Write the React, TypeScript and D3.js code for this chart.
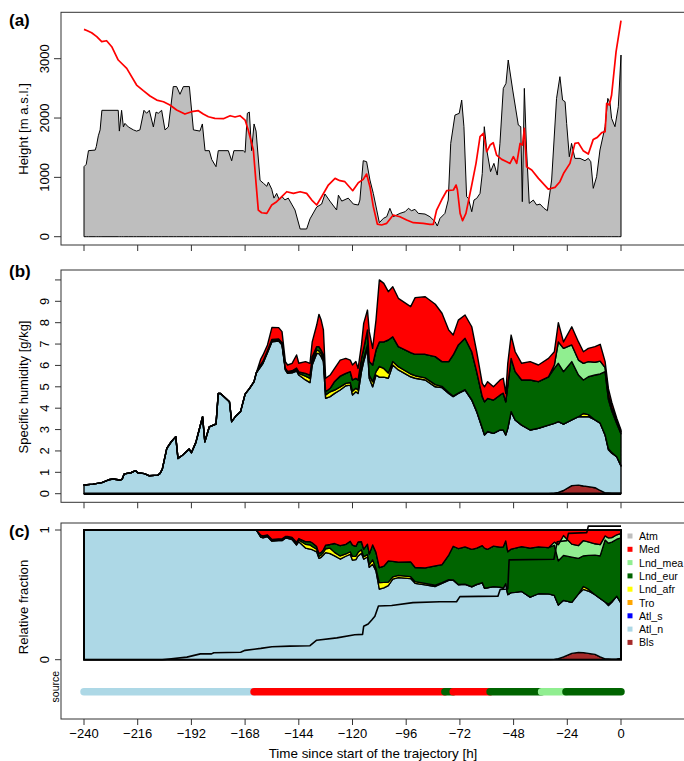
import * as d3 from 'd3'

const W = 684
const H = 761
const FONT = '"Liberation Sans", Arial, Helvetica, sans-serif'

// ---- panel (a): terrain below the trajectory and trajectory height [m a.s.l.]
const terrain: [number, number][] = [
  [-240, 1180], [-239, 1220], [-238, 1450], [-235, 1460], [-234.5, 1520], [-233.6, 1700], [-232.8, 1800],
  [-232, 2130], [-224.7, 2130], [-224.2, 1780], [-223.2, 2130], [-222.4, 1850], [-221.7, 1910], [-220.2, 1850],
  [-217.9, 1800], [-216.5, 1780], [-215, 1800], [-213.2, 2130], [-212, 2080], [-210.8, 2130], [-209, 1850],
  [-207.8, 2100], [-206.8, 2080], [-205.3, 2130], [-203.8, 1800], [-202.3, 1850], [-200.1, 2530], [-198.6, 2530],
  [-197.1, 2400], [-195.6, 2530], [-192.9, 2530], [-191.1, 1800], [-188.2, 1780], [-187.1, 1900], [-185.9, 1450],
  [-184, 1450], [-182.9, 1300], [-181, 1180], [-180, 1450], [-175.5, 1450], [-174, 1280], [-173, 1450],
  [-168.8, 1450], [-168, 1420], [-167, 2080], [-166.1, 2100], [-165.1, 1450], [-164, 1900], [-163.1, 1780],
  [-161.3, 950], [-159.8, 900], [-158.3, 850], [-157.6, 920], [-156.1, 800], [-155.1, 650], [-153.9, 730],
  [-152.7, 620], [-151.6, 680], [-150.2, 620], [-148.7, 650], [-147.2, 550], [-145.7, 450], [-143.4, 130],
  [-140.5, 130], [-139, 300], [-137.5, 400], [-136, 500], [-133.8, 550], [-132.3, 720], [-130.1, 600],
  [-127.1, 450], [-126.3, 700], [-124.8, 600], [-121.9, 650], [-119.6, 550], [-117.4, 534], [-116.7, 618],
  [-115.2, 1281], [-113.7, 1264], [-112.2, 955], [-110.7, 730], [-108, 236], [-106.2, 309], [-104.7, 337],
  [-103.3, 478], [-101.8, 337], [-100.3, 365], [-98.8, 393], [-96.5, 421], [-95, 478], [-93.6, 438],
  [-92.1, 461], [-90.6, 393], [-87.6, 382], [-85.4, 337], [-83.1, 253], [-82.1, 180], [-80.9, 309],
  [-78.7, 393], [-77.2, 618], [-76.1, 1573], [-74.2, 2050], [-72.3, 2079], [-71.2, 2303], [-70.2, 1854],
  [-69, 674], [-68.2, 646], [-66.7, 421], [-65.7, 618], [-64.5, 646], [-63, 730], [-62, 1067], [-61.1, 1854],
  [-60, 1461], [-58.3, 1096], [-56.8, 1236], [-55.3, 1039], [-54.1, 1573], [-52.6, 2500], [-51.4, 2584],
  [-50.4, 2978], [-48.4, 2472], [-45.9, 1882], [-44.8, 1854], [-44.1, 590], [-43.2, 2500], [-42.2, 1461],
  [-41, 562], [-39.2, 618], [-37.7, 534], [-36.2, 550], [-34.4, 478], [-32.9, 438], [-31, 955], [-28.8, 2331],
  [-27.3, 2697], [-26.1, 2303], [-25, 2275], [-24.3, 1910], [-23.1, 1348], [-22.1, 1573], [-20.6, 1320],
  [-18.3, 1320], [-16.1, 1281], [-14.6, 1320], [-13.5, 1264], [-12.4, 815], [-10.9, 1011], [-9.4, 1461],
  [-7.1, 1854], [-5.9, 2331], [-4.9, 2247], [-4.2, 1994], [-2.7, 1854], [-1.2, 2191], [0, 3062],
]

const trajHeight: [number, number][] = [
  [-240, 3494], [-238.5, 3472], [-236.6, 3438], [-234.3, 3371], [-232.1, 3287], [-229.9, 3303], [-227.6, 3202],
  [-224.7, 2978], [-220.9, 2837], [-216.5, 2556], [-213.5, 2461], [-210.5, 2371], [-207.5, 2303], [-204.5, 2275],
  [-201.6, 2219], [-198.6, 2135], [-194.9, 2067], [-191.9, 2107], [-188.9, 2124], [-186.7, 2067], [-184.4, 2022],
  [-181.5, 1994], [-177.7, 1989], [-174.7, 2039], [-172.5, 2017], [-170.3, 2039], [-168, 1966], [-166.6, 1798],
  [-164.3, 1461], [-163.1, 899], [-162.1, 449], [-160.6, 404], [-158.3, 393], [-156.1, 534], [-153.9, 590],
  [-151.6, 674], [-149.4, 758], [-146.4, 730], [-143.4, 758], [-140.5, 730], [-138.2, 618], [-136, 534],
  [-133.8, 674], [-130.8, 871], [-127.8, 983], [-125.6, 944], [-123.4, 927], [-119.9, 775], [-117.4, 910],
  [-115.2, 966], [-113.7, 1056], [-112.2, 843], [-110.7, 506], [-108.9, 213], [-107, 197], [-104.7, 225],
  [-101.8, 365], [-98.8, 337], [-95.8, 281], [-92.8, 236], [-88.4, 225], [-85.4, 208], [-83.9, 208],
  [-82.4, 449], [-80.2, 618], [-77.9, 775], [-74.9, 787], [-73.7, 871], [-73.1, 787], [-71.9, 393],
  [-70.8, 270], [-69.3, 393], [-66.7, 871], [-64.8, 1236], [-63, 1685], [-61.5, 1742], [-60, 1433],
  [-58.5, 1545], [-57.1, 1584], [-55.6, 1376], [-53.3, 1303], [-51.1, 1264], [-49.6, 1236], [-48.1, 1348],
  [-46.6, 1236], [-45.1, 1573], [-44, 1545], [-43.2, 1826], [-42.2, 1180], [-39.9, 1124], [-36.9, 983],
  [-32.5, 803], [-29.5, 831], [-27.3, 927], [-25.5, 1079], [-22.8, 1236], [-20.6, 1573], [-19.1, 1584],
  [-16.9, 1450], [-14.6, 1393], [-12.4, 1640], [-10.6, 1674], [-8.6, 1753], [-7.1, 1770], [-6.4, 2247],
  [-5.2, 2219], [-4.2, 2388], [-2.2, 3118], [0, 3640],
]

// ---- panel (b): specific humidity per moisture source [g/kg]
const hours = [
  -240, -236, -232, -229, -227, -224, -223, -222, -219, -217, -216, -213, -211, -207, -206, -205, -203, -201,
  -199, -198, -196, -193, -192, -190, -188, -187, -186, -184, -181, -180, -179, -175, -174, -172, -170, -168,
  -166, -164, -163,
  -161, -160, -158, -156, -153, -151.5, -150, -149, -147, -145, -144, -141, -139, -138, -136, -135, -134, -133,
  -132, -130, -128, -125.5, -123, -121, -120, -118.5, -117.5, -116, -115, -113.3, -112.5, -111, -109.5, -108,
  -106, -104, -102, -99.5, -94, -92, -87.5, -83, -80, -77, -75, -72.7, -69.7, -66.7, -64.5, -62, -61, -59.6,
  -57, -54, -52.6, -51.5, -50.6, -49.1, -47.3, -44.4, -40.6, -36.9, -32.4, -29.8, -28, -25.7, -22, -19,
  -16.8, -14.6, -11.6, -9.3, -7.1, -5.6, -4.1, -1.9, 0,
]
const atlN = [
  0.41, 0.45, 0.52, 0.65, 0.69, 0.64, 0.67, 0.93, 0.98, 1.08, 0.98, 0.94, 0.84, 0.87, 0.95, 1.15, 2.12, 2.43,
  2.67, 1.65, 1.8, 2.09, 1.92, 2.4, 3.2, 3.6, 2.43, 3.13, 3.26, 4.69, 4.69, 4.3, 3.37, 3.65, 3.85, 4.66,
  4.93, 5.24, 5.65,
  5.95, 6.1, 6.6, 7.11, 7.14, 6.96, 5.79, 5.63, 5.65, 5.74, 5.55, 5.32, 5.2, 6.02, 6.56, 6.56, 6.41, 6.18,
  4.46, 4.54, 4.69, 4.85, 5.05, 5.08, 4.62, 4.77, 4.69, 5.71, 6.18, 6.8, 5.4, 5.0, 5.55, 5.45,
  5.45, 5.4, 6.02, 5.79, 5.47, 5.4, 5.32, 5.0, 4.96, 4.69, 4.54, 4.69, 4.85, 4.38, 3.84, 3.06, 2.75, 2.9,
  2.82, 2.98, 2.98, 2.75, 3.06, 3.84, 3.45, 3.21, 2.98, 3.06, 3.21, 3.27, 3.31, 3.1, 3.07, 3.2,
  3.24, 3.27, 3.17, 3.15, 2.71, 2.02, 1.87, 1.71, 1.27,
]
const lndAfr = [
  0, 0, 0, 0, 0, 0, 0, 0, 0, 0, 0, 0, 0, 0, 0, 0, 0, 0,
  0, 0, 0, 0, 0, 0, 0, 0, 0, 0, 0, 0, 0, 0, 0, 0, 0, 0,
  0, 0, 0,
  0.02, 0.03, 0.03, 0.03, 0.03, 0.04, 0.03, 0.03, 0.04, 0.06, 0.08, 0.18, 0.2, 0.18, 0.16, 0.12, 0.15, 0.15,
  0.16, 0.23, 0.16, 0.15, 0.11, 0.12, 0.18, 0.16, 0.16, 0.19, 0.15, 0.16, 0.15, 0.24, 0.16, 0.5,
  0.41, 0.25, 0.16, 0.15, 0.13, 0.12, 0.1, 0.1, 0.06, 0.04, 0.03, 0.02, 0.02, 0.02, 0.02, 0.01, 0.01, 0.01,
  0, 0, 0, 0, 0, 0, 0, 0, 0, 0, 0, 0, 0, 0, 0, 0,
  0.15, 0.1, 0, 0, 0, 0.05, 0.03, 0, 0,
]
const lndEur = [
  0, 0, 0, 0, 0, 0, 0, 0, 0, 0, 0, 0, 0, 0, 0, 0, 0, 0,
  0, 0, 0, 0, 0, 0, 0, 0, 0, 0, 0, 0, 0, 0, 0, 0, 0, 0,
  0, 0, 0,
  0.08, 0.07, 0.07, 0.08, 0.07, 0.06, 0.05, 0.06, 0.06, 0.08, 0.07, 0.13, 0.15, 0.2, 0.16, 0.2, 0.16, 0.17,
  0.15, 0.16, 0.4, 0.5, 0.47, 0.51, 0.52, 0.47, 0.47, 0.43, 0.47, 0.7, 0.63, 0.78, 1.01, 1.15,
  1.24, 1.54, 1.16, 0.94, 1.0, 1.0, 1.1, 1.31, 1.16, 1.45, 1.92, 2.25, 2.4, 2.24, 1.85, 1.47, 1.54, 1.55,
  1.56, 1.64, 1.72, 1.55, 2.02, 2.49, 2.26, 2.11, 2.34, 2.18, 2.26, 2.57, 2.73, 2.46, 2.73, 1.95,
  1.57, 1.77, 2.1, 2.3, 2.96, 2.3, 1.95, 1.55, 1.5,
]
const lndMea = [
  0, 0, 0, 0, 0, 0, 0, 0, 0, 0, 0, 0, 0, 0, 0, 0, 0, 0,
  0, 0, 0, 0, 0, 0, 0, 0, 0, 0, 0, 0, 0, 0, 0, 0, 0, 0,
  0, 0, 0,
  0, 0, 0, 0, 0, 0, 0, 0, 0, 0, 0, 0, 0, 0, 0, 0, 0, 0,
  0, 0, 0, 0, 0, 0, 0, 0, 0, 0, 0, 0, 0, 0, 0, 0,
  0, 0, 0, 0, 0, 0, 0, 0, 0, 0, 0, 0, 0, 0, 0, 0, 0, 0,
  0, 0, 0, 0, 0, 0, 0, 0, 0, 0, 0, 0.16, 1.0, 1.09, 0.78, 0.7,
  0.78, 0.71, 0.6, 0.6, 0.19, 0.2, 0.15, 0.12, 0.1,
]
const med = [
  0, 0, 0, 0, 0, 0, 0, 0, 0, 0, 0, 0, 0, 0, 0, 0, 0, 0,
  0, 0, 0, 0, 0, 0, 0, 0, 0, 0, 0, 0, 0, 0, 0, 0, 0, 0,
  0, 0, 0,
  0.25, 0.29, 0.26, 0.56, 0.53, 0.52, 0.31, 0.3, 0.35, 0.61, 0.4, 0.55, 0.55, 0.7, 1.01, 1.51, 1.4, 1.16,
  0.63, 0.62, 0.61, 0.75, 0.7, 0.54, 0.7, 0.78, 0.54, 0.63, 1.17, 0.93, 1.4, 0.78, 1.4, 2.9,
  2.74, 2.26, 2.34, 2.26, 2.15, 2.65, 2.69, 2.45, 2.26, 1.48, 0.93, 1.16, 1.09, 1.17, 0.93, 0.62, 0.7, 0.78,
  0.62, 0.7, 0.7, 0.39, 1.02, 1.09, 0.93, 0.78, 0.86, 0.78, 0.86, 0.62, 0.9, 0.3, 0.85, 0.85,
  0.54, 0.62, 0.73, 0.79, 0.28, 0.3, 0.25, 0.13, 0.08,
]
const bls = [
  0, 0, 0, 0, 0, 0, 0, 0, 0, 0, 0, 0, 0, 0, 0, 0, 0, 0,
  0, 0, 0, 0, 0, 0, 0, 0, 0, 0, 0, 0, 0, 0, 0, 0, 0, 0,
  0, 0, 0,
  0, 0, 0, 0, 0, 0, 0, 0, 0, 0, 0, 0, 0, 0, 0, 0, 0, 0,
  0, 0, 0, 0, 0, 0, 0, 0, 0, 0, 0, 0, 0, 0, 0, 0,
  0, 0, 0, 0, 0, 0, 0, 0, 0, 0, 0, 0, 0, 0, 0, 0, 0, 0,
  0, 0, 0, 0, 0, 0, 0, 0, 0, 0, 0, 0.02, 0.06, 0.15, 0.38, 0.4,
  0.36, 0.33, 0.28, 0.15, 0.04, 0.03, 0.02, 0.02, 0.03,
]

// ---- panel (c): the black line drawn over the relative fractions
const fracLine: [number, number][] = [
  [-240, 0], [-205, 0], [-194, 0.02], [-188, 0.045], [-183, 0.045], [-182, 0.054], [-170, 0.058], [-168, 0.072],
  [-161, 0.087], [-156, 0.1], [-148, 0.105], [-139, 0.108], [-136, 0.15], [-127, 0.168], [-119, 0.192],
  [-115.5, 0.195], [-115, 0.258], [-113, 0.275], [-111.4, 0.306], [-110, 0.335], [-108.4, 0.414], [-102.5, 0.418],
  [-93, 0.44], [-81, 0.447], [-73.5, 0.447], [-72, 0.486], [-55, 0.49], [-54, 0.542], [-50.6, 0.545], [-50, 0.77],
  [-30, 0.774], [-28.5, 0.91], [-24.2, 0.918], [-23.5, 0.974], [-15.3, 0.98], [-14.6, 1.03], [0, 1.03],
]

// dominant source along the trajectory
const srcStart = [-240, -164, -78.7, -75, -58.5, -35.5, -24.6]
const srcEnd = [-164, -78.7, -75, -58.5, -35.5, -24.6, 0]
const srcName = ['Atl_n', 'Med', 'Lnd_eur', 'Med', 'Lnd_eur', 'Lnd_mea', 'Lnd_eur']

const legendKeys = ['Atm', 'Med', 'Lnd_mea', 'Lnd_eur', 'Lnd_afr', 'Tro', 'Atl_s', 'Atl_n', 'Bls']
const legendColors = ['#bebebe', '#ff0000', '#90ee90', '#006400', '#ffff00', '#ffa500', '#0000ff', '#add8e6', '#a52a2a']
const colorOf: Record<string, string> = Object.fromEntries(legendKeys.map((k, i) => [k, legendColors[i]]))

const xTicks = [-240, -216, -192, -168, -144, -120, -96, -72, -48, -24, 0]
const hTicks = [0, 1000, 2000, 3000]
const qTicks = [0, 1, 2, 3, 4, 5, 6, 7, 8, 9, 10]
const qLabels = [0, 1, 2, 3, 4, 5, 6, 7, 8, 9]
const fTicks = [0, 1]

const stackKeys = ['Bls', 'Atl_n', 'Lnd_afr', 'Lnd_eur', 'Lnd_mea', 'Med']

type Row = { t: number; [k: string]: number }

export default function App() {
  const x = d3.scaleLinear().domain([-240, 0]).range([84, 621])
  const yA = d3.scaleLinear().domain([0, 3000]).range([236.7, 58.7])
  const yB = d3.scaleLinear().domain([0, 9]).range([493.7, 301.3])
  const yC = d3.scaleLinear().domain([0, 1]).range([659.7, 530])

  const boxL = 61
  const boxR = 700
  const boxes = [
    { top: 12.3, bottom: 245 },
    { top: 270, bottom: 502.3 },
    { top: 523, bottom: 719 },
  ]

  const terrainArea = d3.area<[number, number]>()
    .x(d => x(d[0])).y0(yA(0)).y1(d => yA(d[1]))
  const trajLine = d3.line<[number, number]>().x(d => x(d[0])).y(d => yA(d[1]))

  const rows: Row[] = hours.map((t, i) => ({
    t, Bls: bls[i], Atl_n: atlN[i], Lnd_afr: lndAfr[i], Lnd_eur: lndEur[i], Lnd_mea: lndMea[i], Med: med[i],
  }))
  const stackAbs = d3.stack<Row>().keys(stackKeys)(rows)
  const stackRel = d3.stack<Row>().keys(stackKeys).offset(d3.stackOffsetExpand)(rows)

  const areaB = d3.area<d3.SeriesPoint<Row>>()
    .x(d => x(d.data.t)).y0(d => yB(d[0])).y1(d => yB(d[1]))
  const areaC = d3.area<d3.SeriesPoint<Row>>()
    .x(d => x(d.data.t)).y0(d => yC(d[0])).y1(d => yC(d[1]))
  const fracPath = d3.line<[number, number]>().x(d => x(d[0])).y(d => yC(d[1]))

  const minus = (v: number) => (v < 0 ? '\u2212' + Math.abs(v) : String(v))
  const srcY = 691.7

  return (
    <svg width={W} height={H} style={{ position: 'absolute', left: 0, top: 0, background: '#fff' }}
      fontFamily={FONT}>
      {/* panel (a) */}
      <path d={terrainArea(terrain) + 'Z'} fill="#bebebe" stroke="#000" strokeWidth={1} strokeLinejoin="round" />
      <path d={trajLine(trajHeight) ?? ''} fill="none" stroke="#ff0000" strokeWidth={1.7} strokeLinejoin="round" />

      {/* panel (b) */}
      {stackAbs.map(s => (
        <path key={'b' + s.key} d={areaB(s) + 'Z'} fill={colorOf[s.key]} stroke="#000" strokeWidth={1.4}
          strokeLinejoin="round" />
      ))}
      <line x1={x(-240)} x2={x(0)} y1={yB(0)} y2={yB(0)} stroke="#000" strokeWidth={2.5} />

      {/* panel (c) */}
      {stackRel.map(s => (
        <path key={'c' + s.key} d={areaC(s) + 'Z'} fill={colorOf[s.key]} stroke="#000" strokeWidth={1.3}
          strokeLinejoin="round" />
      ))}
      <rect x={x(-240)} y={yC(1)} width={x(0) - x(-240)} height={yC(0) - yC(1)} fill="none" stroke="#000"
        strokeWidth={2} />
      <path d={fracPath(fracLine) ?? ''} fill="none" stroke="#000" strokeWidth={1.6} strokeLinejoin="round" />

      {srcStart.map((s, i) => (
        <line key={'src' + i} x1={x(s)} x2={x(srcEnd[i])} y1={srcY} y2={srcY} stroke={colorOf[srcName[i]]}
          strokeWidth={7.5} strokeLinecap="round" />
      ))}

      {/* boxes and x ticks */}
      {boxes.map((b, i) => (
        <g key={'box' + i}>
          <rect x={boxL} y={b.top} width={boxR - boxL} height={b.bottom - b.top} fill="none" stroke="#333"
            strokeWidth={1} />
          {xTicks.map(t => (
            <line key={t} x1={x(t)} x2={x(t)} y1={b.bottom} y2={b.bottom + 6} stroke="#333" strokeWidth={1} />
          ))}
        </g>
      ))}
      {xTicks.map(t => (
        <text key={'xl' + t} x={x(t)} y={737.5} fontSize={13} textAnchor="middle">{minus(t)}</text>
      ))}
      <text x={373} y={757.5} fontSize={13.4} textAnchor="middle">Time since start of the trajectory [h]</text>

      {/* y axes */}
      {hTicks.map(v => (
        <g key={'ha' + v}>
          <line x1={boxL - 7} x2={boxL} y1={yA(v)} y2={yA(v)} stroke="#333" />
          <text transform={`translate(49,${yA(v)}) rotate(-90)`} fontSize={13} textAnchor="middle">{v}</text>
        </g>
      ))}
      {qTicks.map(v => (
        <line key={'qb' + v} x1={boxL - 6} x2={boxL} y1={yB(v)} y2={yB(v)} stroke="#333" />
      ))}
      {qLabels.map(v => (
        <text key={'ql' + v} transform={`translate(49,${yB(v)}) rotate(-90)`} fontSize={13}
          textAnchor="middle">{v}</text>
      ))}
      {fTicks.map(v => (
        <g key={'fc' + v}>
          <line x1={boxL - 6} x2={boxL} y1={yC(v)} y2={yC(v)} stroke="#333" />
          <text transform={`translate(49,${yC(v)}) rotate(-90)`} fontSize={13} textAnchor="middle">{v}</text>
        </g>
      ))}

      <text transform="translate(27.5,129) rotate(-90)" fontSize={13.2} textAnchor="middle">Height [m a.s.l.]</text>
      <text transform="translate(27.5,387) rotate(-90)" fontSize={13} textAnchor="middle">Specific humidity [g/kg]</text>
      <text transform="translate(27.5,607) rotate(-90)" fontSize={13.2} textAnchor="middle">Relative fraction</text>
      <text transform={`translate(59,${srcY - 5}) rotate(-90)`} fontSize={10.5} textAnchor="middle">source</text>

      <text x={9} y={25.5} fontSize={17} fontWeight="bold">(a)</text>
      <text x={9} y={277} fontSize={17} fontWeight="bold">(b)</text>
      <text x={9} y={537} fontSize={17} fontWeight="bold">(c)</text>

      {/* legend */}
      {legendKeys.map((k, i) => (
        <g key={'lg' + k}>
          <rect x={627.5} y={536 + 13.3 * i - 2.5} width={5} height={5} fill={legendColors[i]} />
          <text x={639} y={536 + 13.3 * i + 4} fontSize={10.6}>{k}</text>
        </g>
      ))}
    </svg>
  )
}
